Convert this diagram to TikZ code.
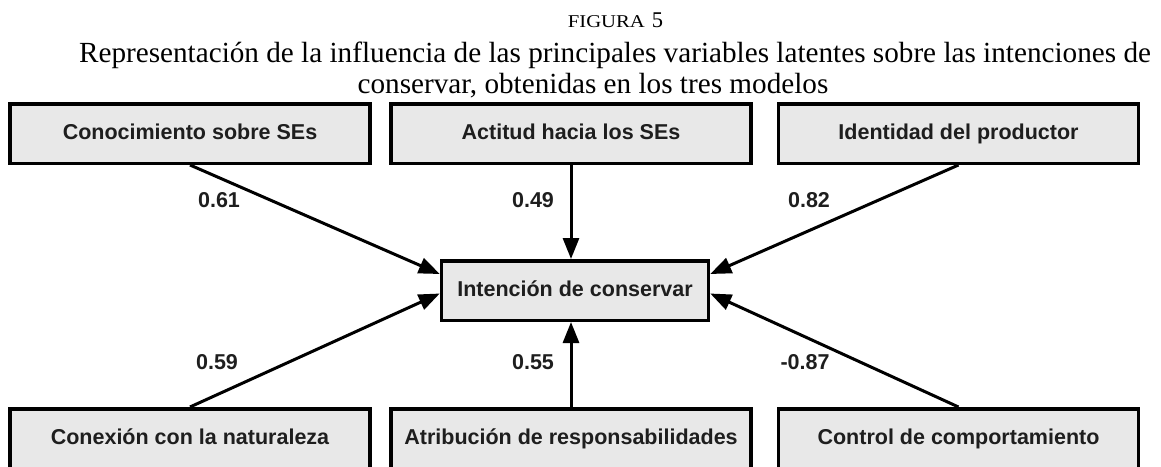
\documentclass[tikz,border=0pt]{standalone}
\usepackage{fontspec}
\setmainfont{Liberation Serif}
\newfontfamily\boxfont{Liberation Sans}
\usetikzlibrary{arrows.meta}
\definecolor{boxfill}{RGB}{232,232,232}
\definecolor{ink}{RGB}{30,30,30}
\tikzset{
  varbox/.style={draw=black, line width=3.5pt, fill=boxfill, minimum width=360pt, minimum height=59.5pt, inner sep=0pt, text height=15.5pt, text depth=3pt, font=\boxfont\bfseries\fontsize{21.5}{24}\selectfont, text=ink},
  centerbox/.style={varbox, minimum width=267pt},
  link/.style={line width=3pt, -{Triangle[length=21pt,width=16pt]}},
  coef/.style={font=\boxfont\bfseries\fontsize{21.5}{24}\selectfont, text=ink, inner sep=0pt},
  ttl/.style={anchor=base, inner sep=0pt, font=\fontsize{29.2}{31}\selectfont}
}
\begin{document}
\begin{tikzpicture}[x=1pt,y=-1pt]
\useasboundingbox (0,0) rectangle (1161,466);
\clip (0,0) rectangle (1161,466);
\node[anchor=base, inner sep=0pt] (fig) at (615.5,27) {\scalebox{1.15}[1]{\fontsize{18}{18}\selectfont FIGURA}\hspace{7pt}{\fontsize{22.5}{24}\selectfont 5}};
\node[ttl] (t1) at (615,62) {Representación de la influencia de las principales variables latentes sobre las intenciones de};
\node[ttl] (t2) at (593,93) {conservar, obtenidas en los tres modelos};

\node[varbox] (tl) at (190,133.5) {Conocimiento sobre SEs};
\node[varbox] (tm) at (571,133.5) {Actitud hacia los SEs};
\node[varbox] (tr) at (958.5,133.5) {Identidad del productor};
\node[centerbox] (c) at (575,290.5) {Intención de conservar};
\node[varbox] (bl) at (190,438.5) {Conexión con la naturaleza};
\node[varbox] (bm) at (571,438.5) {Atribución de responsabilidades};
\node[varbox] (br) at (958.5,438.5) {Control de comportamiento};

\draw[link] (tl.south) -- ([yshift=16.5pt]c.west);
\draw[link] (tm.south) -- (tm.south |- c.north);
\draw[link] (tr.south) -- ([yshift=16.5pt]c.east);
\draw[link] (bl.north) -- ([yshift=-3pt]c.west);
\draw[link] (bm.north) -- (bm.north |- c.south);
\draw[link] (br.north) -- ([yshift=-3pt]c.east);

\node[coef] (l1) at (219,200) {0.61};
\node[coef] (l2) at (533,200) {0.49};
\node[coef] (l3) at (809,200) {0.82};
\node[coef] (l4) at (217,362) {0.59};
\node[coef] (l5) at (533,362) {0.55};
\node[coef] (l6) at (805,362) {-0.87};
\end{tikzpicture}
\end{document}
